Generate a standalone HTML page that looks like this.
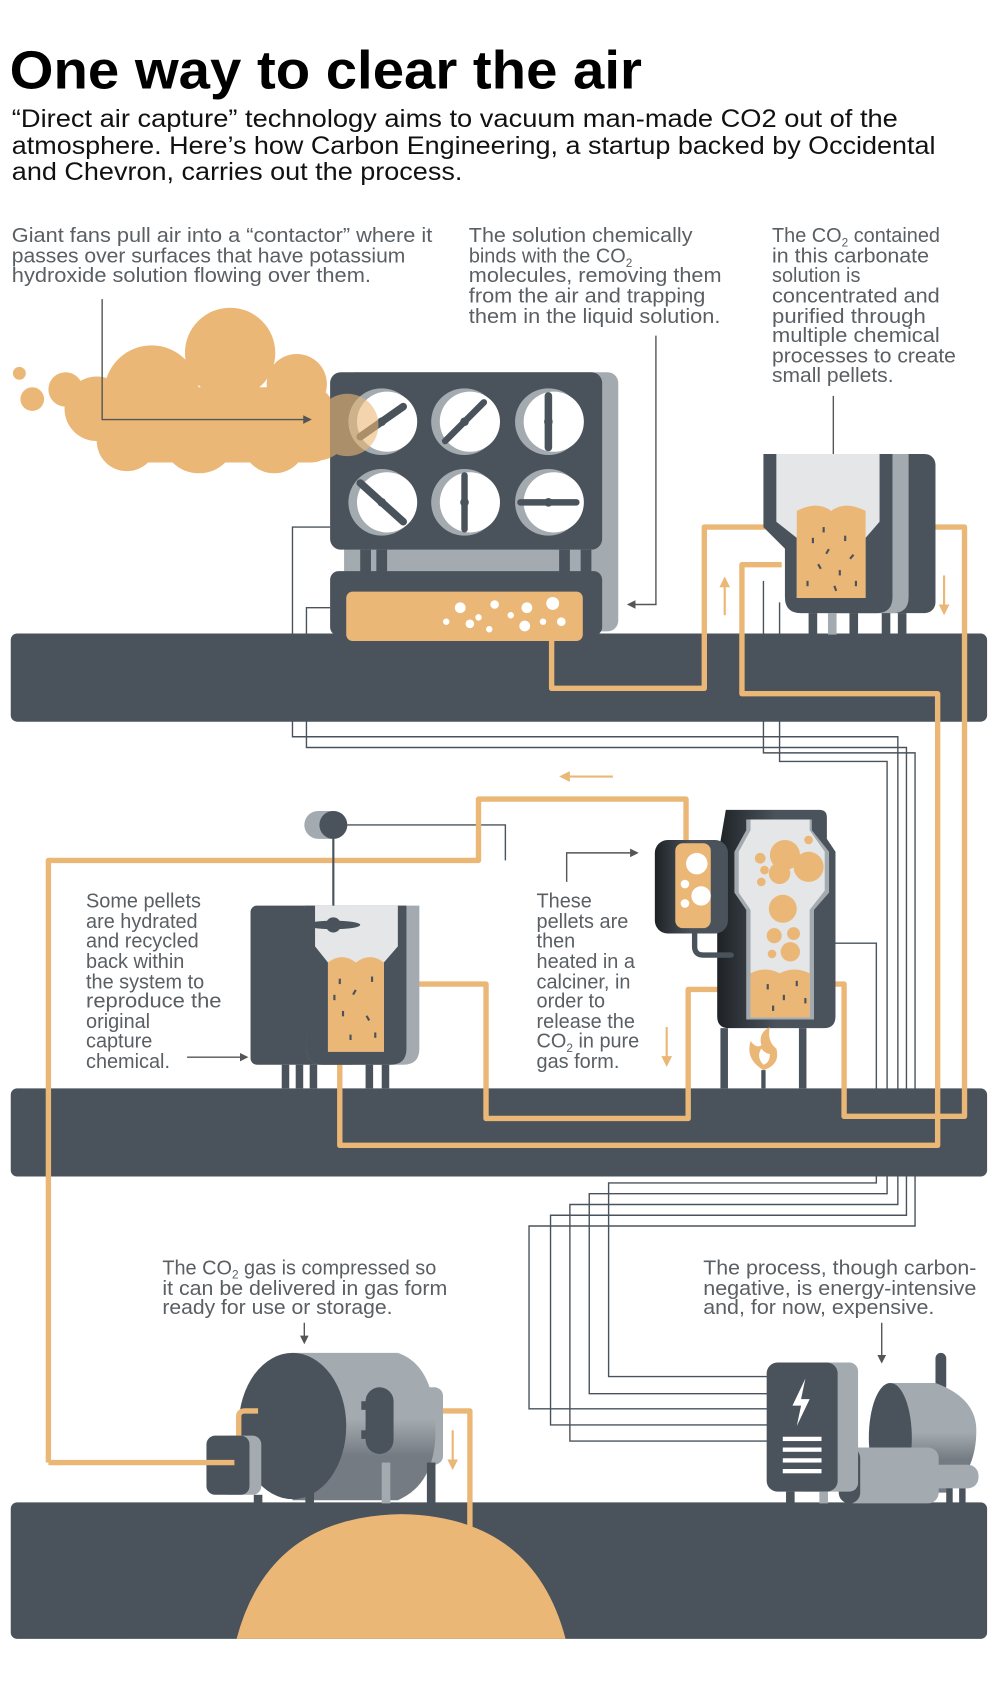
<!DOCTYPE html>
<html><head><meta charset="utf-8"><style>
html,body{margin:0;padding:0;background:#fff}
svg{display:block}
.t{font-family:"Liberation Sans Narrow","Liberation Sans",sans-serif;fill:#5a5f63;font-size:18.5px}
.s{font-family:"Liberation Sans Narrow","Liberation Sans",sans-serif;fill:#111;font-size:23px}
</style></head><body>
<svg width="1000" height="1695" viewBox="0 0 930 1576" xmlns="http://www.w3.org/2000/svg">
<defs>
<linearGradient id="cyl" x1="0" y1="0" x2="0" y2="1"><stop offset="0" stop-color="#a3abb0"/><stop offset="0.45" stop-color="#a3abb0"/><stop offset="0.7" stop-color="#747b82"/><stop offset="1" stop-color="#747b82"/></linearGradient>
<linearGradient id="dk" x1="0" y1="0" x2="1" y2="0"><stop offset="0" stop-color="#1e2226"/><stop offset="0.5" stop-color="#4a535b"/><stop offset="1" stop-color="#4a535b"/></linearGradient>
<clipPath id="boxclip"><rect x="307" y="346" width="253" height="165" rx="10"/></clipPath>
<marker id="ga" markerWidth="8" markerHeight="8" refX="6" refY="4" orient="auto" markerUnits="userSpaceOnUse"><path d="M0,0 L8,4 L0,8z" fill="#555"/></marker>
<marker id="oa" markerWidth="10" markerHeight="10" refX="8" refY="5" orient="auto" markerUnits="userSpaceOnUse"><path d="M0,0 L10,5 L0,10z" fill="#ebb776"/></marker>
</defs>
<text x="9" y="82" font-family="Liberation Sans,sans-serif" font-weight="bold" font-size="50" textLength="588" lengthAdjust="spacingAndGlyphs">One way to clear the air</text>
<text class="s" x="11" y="118" textLength="824" lengthAdjust="spacingAndGlyphs">“Direct air capture” technology aims to vacuum man-made CO2 out of the</text>
<text class="s" x="11" y="143" textLength="859" lengthAdjust="spacingAndGlyphs">atmosphere. Here’s how Carbon Engineering, a startup backed by Occidental</text>
<text class="s" x="11" y="167" textLength="419" lengthAdjust="spacingAndGlyphs">and Chevron, carries out the process.</text>

<g class="t">
<text x="11" y="225" textLength="391" lengthAdjust="spacingAndGlyphs">Giant fans pull air into a “contactor” where it</text>
<text x="11" y="244" textLength="366" lengthAdjust="spacingAndGlyphs">passes over surfaces that have potassium</text>
<text x="11" y="262" textLength="334" lengthAdjust="spacingAndGlyphs">hydroxide solution flowing over them.</text>
<text x="436" y="225" textLength="208" lengthAdjust="spacingAndGlyphs">The solution chemically</text>
<text x="436" y="244">binds with the CO<tspan font-size="11" dy="4">2</tspan></text>
<text x="436" y="262" textLength="235" lengthAdjust="spacingAndGlyphs">molecules, removing them</text>
<text x="436" y="281" textLength="220" lengthAdjust="spacingAndGlyphs">from the air and trapping</text>
<text x="436" y="300" textLength="234" lengthAdjust="spacingAndGlyphs">them in the liquid solution.</text>
<text x="718" y="225">The CO<tspan font-size="11" dy="4">2</tspan><tspan dy="-4"> contained</tspan></text>
<text x="718" y="244" textLength="146" lengthAdjust="spacingAndGlyphs">in this carbonate</text>
<text x="718" y="262">solution is</text>
<text x="718" y="281" textLength="156" lengthAdjust="spacingAndGlyphs">concentrated and</text>
<text x="718" y="300" textLength="143" lengthAdjust="spacingAndGlyphs">purified through</text>
<text x="718" y="318" textLength="156" lengthAdjust="spacingAndGlyphs">multiple chemical</text>
<text x="718" y="337" textLength="171" lengthAdjust="spacingAndGlyphs">processes to create</text>
<text x="718" y="355" textLength="113" lengthAdjust="spacingAndGlyphs">small pellets.</text>
<text x="80" y="844">Some pellets</text>
<text x="80" y="863">are hydrated</text>
<text x="80" y="881">and recycled</text>
<text x="80" y="900">back within</text>
<text x="80" y="919">the system to</text>
<text x="80" y="937" textLength="126" lengthAdjust="spacingAndGlyphs">reproduce the</text>
<text x="80" y="956">original</text>
<text x="80" y="974">capture</text>
<text x="80" y="993">chemical.</text>
<text x="499" y="844">These</text>
<text x="499" y="863">pellets are</text>
<text x="499" y="881">then</text>
<text x="499" y="900">heated in a</text>
<text x="499" y="919">calciner, in</text>
<text x="499" y="937">order to</text>
<text x="499" y="956">release the</text>
<text x="499" y="974">CO<tspan font-size="11" dy="4">2</tspan><tspan dy="-4"> in pure</tspan></text>
<text x="499" y="993">gas form.</text>
<text x="151" y="1185">The CO<tspan font-size="11" dy="4">2</tspan><tspan dy="-4"> gas is compressed so</tspan></text>
<text x="151" y="1204" textLength="265" lengthAdjust="spacingAndGlyphs">it can be delivered in gas form</text>
<text x="151" y="1222" textLength="214" lengthAdjust="spacingAndGlyphs">ready for use or storage.</text>
<text x="654" y="1185" textLength="254" lengthAdjust="spacingAndGlyphs">The process, though carbon-</text>
<text x="654" y="1204" textLength="254" lengthAdjust="spacingAndGlyphs">negative, is energy-intensive</text>
<text x="654" y="1222" textLength="215" lengthAdjust="spacingAndGlyphs">and, for now, expensive.</text>
</g>

<!-- ground bars -->
<rect x="10" y="589" width="908" height="82" rx="6" fill="#4a535b"/>
<rect x="10" y="1012" width="908" height="82" rx="6" fill="#4a535b"/>
<rect x="10" y="1397" width="908" height="127" rx="6" fill="#4a535b"/>
<path d="M220,1524 Q250,1410 373,1408 Q496,1410 526,1524Z" fill="#ebb776"/>

<!-- thin grey electric lines -->
<g fill="none" stroke="#4a535b" stroke-width="1.3">
<path d="M307,490 H272 V685 H835 V1120 H530 V1340 H720"/>
<path d="M307,565 H285 V695 H843 V1130 H512 V1325 H720"/>
<path d="M710,540 V700 H851 V1140 H492 V1310 H720"/>
<path d="M725,560 V708 H825 V1110 H548 V1296 H720"/>
<path d="M768,877 H815 V1100 H566 V1280 H720"/>
<path d="M309,767 H470 V800"/>
</g>

<!-- orange pipes -->
<g fill="none" stroke="#ebb776" stroke-width="5" stroke-linejoin="round">
<path d="M513,511 V640 H655 V490 H727"/>
<path d="M835,490 H897 V1038 H785 V915 H760"/>
<path d="M727,525 H690 V645 H872 V1065 H316 V965"/>
<path d="M378,915 H452 V1040 H640 V920 H672"/>
<path d="M45,1360 V800 H445 V743 H638 V785"/>
<path d="M410,1312 H437 V1430"/>
</g>
<g stroke="#ebb776" stroke-width="2" fill="none">
<line x1="674" y1="572" x2="674" y2="538" marker-end="url(#oa)"/>
<line x1="878" y1="535" x2="878" y2="570" marker-end="url(#oa)"/>
<line x1="570" y1="722" x2="522" y2="722" marker-end="url(#oa)"/>
<line x1="620" y1="955" x2="620" y2="990" marker-end="url(#oa)"/>
<line x1="421" y1="1330" x2="421" y2="1365" marker-end="url(#oa)"/>
</g>

<!-- cloud (opaque) -->
<g fill="#ebb776">
<circle cx="18" cy="347" r="6"/><circle cx="30" cy="371" r="11"/><circle cx="61" cy="362" r="16"/>
<circle cx="214" cy="328" r="42"/><circle cx="141" cy="365" r="44"/><circle cx="276" cy="357" r="28"/>
<circle cx="90" cy="380" r="30"/><circle cx="118" cy="410" r="28"/><circle cx="185" cy="405" r="35"/>
<circle cx="255" cy="410" r="30"/><circle cx="295" cy="398" r="30"/>
<rect x="90" y="360" width="220" height="70" rx="20"/>
</g>

<!-- contactor -->
<rect x="320" y="346" width="255" height="241" rx="10" fill="#a3abb0"/>
<rect x="307" y="346" width="253" height="165" rx="10" fill="#4a535b"/>
<rect x="335" y="511" width="10" height="22" fill="#4a535b"/><rect x="350" y="511" width="10" height="22" fill="#4a535b"/>
<rect x="520" y="511" width="10" height="22" fill="#4a535b"/><rect x="540" y="511" width="10" height="22" fill="#4a535b"/>
<rect x="307" y="531" width="253" height="60" rx="8" fill="#4a535b"/>
<rect x="322" y="550" width="220" height="46" rx="6" fill="#ebb776"/>
<g fill="#fff"><circle cx="428" cy="565" r="5"/><circle cx="445" cy="574" r="3"/><circle cx="460" cy="562" r="4"/><circle cx="475" cy="572" r="3"/><circle cx="490" cy="565" r="5"/><circle cx="514" cy="561" r="6"/><circle cx="522" cy="578" r="4"/><circle cx="488" cy="582" r="5"/><circle cx="415" cy="578" r="3"/><circle cx="437" cy="580" r="4"/><circle cx="455" cy="585" r="3"/><circle cx="505" cy="578" r="3"/></g>
<g>
<g transform="translate(355,392)"><circle r="31" fill="#a3abb0"/><circle cx="5" r="28" fill="#fff"/><path d="M-20,14 L20,-14" stroke="#4a535b" stroke-width="7" stroke-linecap="round"/><circle r="4" fill="#4a535b"/></g>
<g transform="translate(432,392)"><circle r="31" fill="#a3abb0"/><circle cx="5" r="28" fill="#fff"/><path d="M-18,18 L18,-18" stroke="#4a535b" stroke-width="6" stroke-linecap="round"/><circle r="4" fill="#4a535b"/></g>
<g transform="translate(510,392)"><circle r="31" fill="#a3abb0"/><circle cx="5" r="28" fill="#fff"/><path d="M0,-24 L0,24" stroke="#4a535b" stroke-width="7" stroke-linecap="round"/><circle r="4" fill="#4a535b"/></g>
<g transform="translate(355,467)"><circle r="31" fill="#a3abb0"/><circle cx="5" r="28" fill="#fff"/><path d="M-20,-18 L20,18" stroke="#4a535b" stroke-width="7" stroke-linecap="round"/><circle r="4" fill="#4a535b"/></g>
<g transform="translate(432,467)"><circle r="31" fill="#a3abb0"/><circle cx="5" r="28" fill="#fff"/><path d="M0,-25 L0,25" stroke="#4a535b" stroke-width="6" stroke-linecap="round"/><circle r="4" fill="#4a535b"/></g>
<g transform="translate(510,467)"><circle r="31" fill="#a3abb0"/><circle cx="5" r="28" fill="#fff"/><path d="M-26,0 L26,0" stroke="#4a535b" stroke-width="6" stroke-linecap="round"/><circle r="4" fill="#4a535b"/></g>
</g>
<!-- translucent cloud over box -->
<g fill="#ebb776" opacity="0.6" clip-path="url(#boxclip)">
<circle cx="295" cy="398" r="30"/><circle cx="323" cy="395" r="29"/><circle cx="276" cy="357" r="28"/>
</g>
<path d="M95,278 V390 H288" fill="none" stroke="#555" stroke-width="1.3" marker-end="url(#ga)"/>

<!-- grey annotation arrows -->
<g stroke="#555" stroke-width="1.3" fill="none">
<path d="M610,312 V562 H585" marker-end="url(#ga)"/>
<path d="M775,368 V450" marker-end="url(#ga)"/>
<path d="M527,820 V793 H592" marker-end="url(#ga)"/>
<path d="M174,983 H229" marker-end="url(#ga)"/>
<path d="M283,1230 V1248" marker-end="url(#ga)"/>
<path d="M820,1230 V1266" marker-end="url(#ga)"/>
</g>

<!-- pellet reactor top right -->
<rect x="760" y="422" width="110" height="148" rx="10" fill="#4a535b"/>
<path d="M710,422 H845 V555 Q845,570 830,570 H745 Q730,570 730,555 V510 L710,490Z" fill="#a3abb0"/>
<path d="M710,422 H830 V555 Q830,570 815,570 H745 Q730,570 730,555 V510 L710,490Z" fill="#4a535b"/>
<path d="M722,422 H818 V485 L805,500 V556 H741 V500 L722,485Z" fill="#e4e6e8"/>
<path d="M741,475 Q760,465 773,475 Q786,465 805,475 V556 H741Z" fill="#ebb776"/>
<g fill="#4a535b"><rect x="755" y="500" width="2" height="5"/><rect x="770" y="510" width="2" height="5" transform="rotate(30 770 510)"/><rect x="785" y="498" width="2" height="5"/><rect x="760" y="525" width="2" height="5" transform="rotate(-30 760 525)"/><rect x="780" y="530" width="2" height="5"/><rect x="793" y="515" width="2" height="5" transform="rotate(40 793 515)"/><rect x="750" y="540" width="2" height="5"/><rect x="775" y="545" width="2" height="5" transform="rotate(-20 775 545)"/><rect x="795" y="540" width="2" height="5"/><rect x="765" y="490" width="2" height="5"/></g>
<g fill="#4a535b"><rect x="752" y="570" width="8" height="20"/><rect x="790" y="570" width="8" height="20"/><rect x="820" y="570" width="8" height="20"/><rect x="835" y="570" width="8" height="20"/></g>
<rect x="770" y="570" width="8" height="20" fill="#a3abb0"/>

<!-- hydration tank -->
<rect x="283" y="754" width="40" height="26" rx="13" fill="#a3abb0"/>
<circle cx="310" cy="767" r="13" fill="#4a535b"/>
<line x1="310" y1="767" x2="310" y2="860" stroke="#4a535b" stroke-width="2"/>
<rect x="233" y="842" width="100" height="148" rx="6" fill="#4a535b"/>
<path d="M283,842 H390 V975 Q390,990 375,990 H300 Q285,990 285,975 V880 L283,842Z" fill="#a3abb0"/>
<path d="M283,842 H378 V975 Q378,990 363,990 H300 Q285,990 285,975Z" fill="#4a535b"/>
<path d="M293,842 H370 V880 L357,895 V978 H305 V895 L293,880Z" fill="#e4e6e8"/>
<path d="M305,895 Q318,885 331,895 Q344,885 357,895 V978 H305Z" fill="#ebb776"/>
<g fill="#4a535b"><rect x="315" y="910" width="2" height="5"/><rect x="330" y="920" width="2" height="5" transform="rotate(30 330 920)"/><rect x="345" y="908" width="2" height="5"/><rect x="318" y="940" width="2" height="5"/><rect x="340" y="945" width="2" height="5" transform="rotate(-30 340 945)"/><rect x="325" y="962" width="2" height="5"/><rect x="348" y="960" width="2" height="5"/><rect x="310" y="925" width="2" height="5"/></g>
<path d="M310,860 m-25,0 a25,4 0 1,0 50,0 a25,4 0 1,0 -50,0" fill="#4a535b"/>
<circle cx="310" cy="860" r="7" fill="#4a535b"/>
<g fill="#4a535b"><rect x="262" y="990" width="7" height="22"/><rect x="275" y="990" width="7" height="22"/><rect x="288" y="990" width="7" height="22"/><rect x="340" y="990" width="7" height="22"/><rect x="355" y="990" width="7" height="22"/></g>

<!-- calciner -->
<path d="M675,753 H762 Q769,753 769,760 V780 L777,792 V945 Q777,956 766,956 H678 Q667,956 667,945 V800 Z" fill="url(#dk)"/>
<path d="M694,762 H755 V772 L771,792 V830 L757,846 V948 H694 V846 L683,830 V792 L694,772Z" fill="#a3abb0"/>
<path d="M698,762 H753 V772 L767,792 V828 L753,846 V946 H698 V846 L687,830 V792 L698,772Z" fill="#e4e6e8"/>
<path d="M698,905 Q712,898 725,905 Q739,898 753,905 V946 H698Z" fill="#ebb776"/>
<g fill="#ebb776"><circle cx="730" cy="795" r="14"/><circle cx="752" cy="806" r="14"/><circle cx="725" cy="812" r="10"/><circle cx="707" cy="798" r="5"/><circle cx="711" cy="809" r="4"/><circle cx="708" cy="820" r="4"/><circle cx="752" cy="781" r="4"/><circle cx="728" cy="845" r="13"/><circle cx="720" cy="870" r="7"/><circle cx="738" cy="868" r="6"/><circle cx="735" cy="885" r="9"/><circle cx="718" cy="887" r="4"/></g>
<g fill="#4a535b"><rect x="713" y="915" width="2" height="5"/><rect x="728" y="925" width="2" height="5"/><rect x="740" y="912" width="2" height="5"/><rect x="748" y="928" width="2" height="5"/><rect x="718" y="935" width="2" height="5"/></g>
<rect x="609" y="781" width="68" height="87" rx="12" fill="url(#dk)"/>
<rect x="628" y="784" width="33" height="79" rx="7" fill="#ebb776"/>
<g fill="#fff"><circle cx="648" cy="803" r="10"/><circle cx="652" cy="833" r="9"/><circle cx="637" cy="822" r="4"/><circle cx="637" cy="840" r="4"/></g>
<path d="M646,868 V880 Q646,888 654,888 H680" fill="none" stroke="#4a535b" stroke-width="5" stroke-linecap="round"/>
<g fill="#4a535b"><rect x="670" y="956" width="7" height="56"/><rect x="743" y="956" width="7" height="56"/><rect x="708" y="995" width="4" height="17"/></g>
<path d="M710,995 Q693,985 698,968 Q703,975 708,972 Q705,960 716,955 Q713,968 722,975 Q726,990 710,995Z" fill="#ebb776"/>
<path d="M710,990 Q703,983 708,975 Q712,980 716,980 Q716,988 710,990Z" fill="#fff"/>

<!-- compressor -->
<rect x="380" y="1290" width="32" height="72" rx="8" fill="#a3abb0"/>
<path d="M272,1258 H370 Q405,1270 405,1330 Q405,1380 370,1395 H272Z" fill="url(#cyl)"/>
<ellipse cx="272" cy="1326" rx="50" ry="68" fill="#4a535b"/>
<rect x="340" y="1290" width="26" height="62" rx="13" fill="#4a535b"/>
<rect x="336" y="1303" width="8" height="8" fill="#4a535b"/><rect x="336" y="1330" width="8" height="8" fill="#4a535b"/>
<path d="M222,1360 V1317 Q222,1312 228,1312 H240" fill="none" stroke="#ebb776" stroke-width="5"/>
<rect x="205" y="1335" width="38" height="55" rx="8" fill="#a3abb0"/>
<rect x="192" y="1335" width="40" height="55" rx="8" fill="#4a535b"/>
<path d="M45,1360 H218" fill="none" stroke="#ebb776" stroke-width="5"/>
<g><rect x="236" y="1390" width="8" height="8" fill="#4a535b"/><rect x="284" y="1360" width="8" height="38" fill="#4a535b"/><rect x="355" y="1360" width="8" height="38" fill="#a3abb0"/><rect x="397" y="1360" width="8" height="38" fill="#4a535b"/></g>

<!-- power unit -->
<rect x="870" y="1258" width="10" height="36" rx="5" fill="#4a535b"/>
<path d="M830,1286 H870 Q908,1300 908,1330 Q908,1370 880,1388 H830Z" fill="url(#cyl)"/>
<ellipse cx="828" cy="1337" rx="20" ry="51" fill="#4a535b"/>
<rect x="840" y="1362" width="70" height="22" rx="10" fill="#a3abb0"/>
<rect x="785" y="1346" width="88" height="52" rx="10" fill="#a3abb0"/>
<rect x="780" y="1346" width="20" height="52" rx="10" fill="#4a535b"/>
<rect x="740" y="1267" width="58" height="120" rx="8" fill="#a3abb0"/>
<rect x="713" y="1267" width="66" height="120" rx="10" fill="#4a535b"/>
<path d="M749,1282 L737,1307 H745 L741,1326 L753,1301 H745Z" fill="#fff"/>
<g fill="#fff"><rect x="728" y="1336" width="36" height="4"/><rect x="728" y="1346" width="36" height="4"/><rect x="728" y="1356" width="36" height="4"/><rect x="728" y="1366" width="36" height="4"/></g>
<g><rect x="731" y="1387" width="8" height="11" fill="#4a535b"/><rect x="762" y="1387" width="8" height="11" fill="#a3abb0"/><rect x="880" y="1384" width="6" height="14" fill="#4a535b"/><rect x="892" y="1384" width="6" height="14" fill="#4a535b"/></g>
</svg>
</body></html>
